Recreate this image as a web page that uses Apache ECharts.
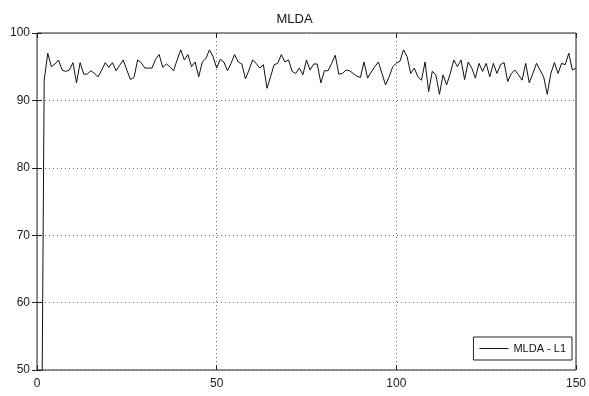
<!DOCTYPE html>
<html>
<head>
<meta charset="utf-8">
<script src="https://cdn.jsdelivr.net/npm/echarts@6/dist/echarts.min.js"></script>
<style>
html,body{margin:0;padding:0;background:#fff;}
#chart{width:589px;height:396px;}
</style>
</head>
<body>
<div id="chart"></div>
<script>
const titleText = 'MLDA';
const seriesName = 'MLDA - L1';
const xTicks = [0, 50, 100, 150];
const yTicks = [50, 60, 70, 80, 90, 100];
const accuracy = [
  15, 93.0, 97.0, 95.0, 95.4, 96.0, 94.5, 94.3, 94.5, 95.6,
  92.6, 95.6, 93.9, 93.9, 94.4, 94.0, 93.5, 94.5, 95.6, 94.9,
  95.6, 94.4, 95.2, 96.0, 94.5, 93.1, 93.4, 96.0, 95.6, 94.8,
  94.8, 94.8, 96.1, 96.8, 94.9, 95.4, 95.0, 94.4, 96.0, 97.5,
  96.0, 96.8, 95.0, 95.7, 93.5, 95.7, 96.2, 97.5, 96.5, 94.8,
  96.1, 95.7, 94.4, 95.5, 96.8, 95.7, 95.4, 93.2, 94.5, 96.0,
  95.5, 94.8, 95.3, 91.8, 93.5, 95.3, 95.5, 96.8, 95.7, 96.0,
  94.3, 94.0, 94.8, 93.8, 96.0, 94.5, 95.4, 95.4, 92.6, 94.4,
  94.4, 95.5, 96.7, 93.9, 94.0, 94.5, 94.4, 94.0, 93.6, 93.4,
  95.7, 93.3, 94.2, 95.0, 95.7, 94.0, 92.3, 93.5, 95.0, 95.5,
  95.8, 97.5, 96.5, 94.0, 94.8, 93.5, 93.0, 95.7, 91.3, 94.3,
  93.8, 90.9, 93.8, 92.3, 94.0, 96.0, 95.0, 96.0, 93.1, 95.7,
  94.8, 93.3, 95.5, 94.3, 95.5, 93.5, 95.5, 94.0, 95.3, 95.6,
  92.8, 94.0, 94.5, 93.8, 93.0, 95.5, 92.6, 94.0, 95.5, 94.5,
  93.5, 90.9, 94.0, 95.6, 94.0, 95.5, 95.3, 97.0, 94.5, 94.8
];

const font = '"Liberation Sans Narrow", "Liberation Sans", Arial, sans-serif';
const chart = echarts.init(document.getElementById('chart'), null, {renderer: 'canvas'});
const gridLine = {show: true, lineStyle: {color: '#666', type: [1, 3], width: 1}};
const option = {
  backgroundColor: '#fff',
  animation: false,
  title: {
    text: titleText, left: 'center', top: 8,
    textStyle: {fontFamily: font, fontSize: 13, fontWeight: 'normal', color: '#111'}
  },
  legend: {
    data: [seriesName], right: 17, bottom: 36,
    orient: 'vertical',
    icon: 'rect', itemWidth: 29, itemHeight: 1, itemGap: 4,
    padding: [6, 6, 6, 6],
    borderColor: '#222', borderWidth: 1, backgroundColor: '#fff',
    textStyle: {fontFamily: font, fontSize: 11, color: '#111'}
  },
  grid: {
    left: 37, right: 12, top: 33, bottom: 26,
    show: true, borderColor: '#222', borderWidth: 1, backgroundColor: 'transparent'
  },
  xAxis: [{
    type: 'value', min: xTicks[0], max: xTicks[xTicks.length - 1], interval: 50,
    axisLine: {show: false},
    axisTick: {show: true, inside: true, length: 5, lineStyle: {color: '#222'}},
    axisLabel: {fontFamily: font, fontSize: 12, color: '#222', margin: 8},
    splitLine: gridLine
  }, {
    type: 'value', position: 'top', min: xTicks[0], max: xTicks[xTicks.length - 1], interval: 50,
    axisLine: {show: false},
    axisTick: {show: true, inside: true, length: 5, lineStyle: {color: '#222'}},
    axisLabel: {show: false}, splitLine: {show: false}
  }],
  yAxis: [{
    type: 'value', min: yTicks[0], max: yTicks[yTicks.length - 1], interval: 10,
    axisLine: {show: false},
    axisTick: {show: true, inside: true, length: 5, lineStyle: {color: '#222'}},
    axisLabel: {fontFamily: font, fontSize: 12, color: '#222', margin: 7},
    splitLine: gridLine
  }, {
    type: 'value', position: 'right', min: yTicks[0], max: yTicks[yTicks.length - 1], interval: 10,
    axisLine: {show: false},
    axisTick: {show: true, inside: true, length: 5, lineStyle: {color: '#222'}},
    axisLabel: {show: false}, splitLine: {show: false}
  }],
  series: [{
    name: seriesName, type: 'line',
    data: accuracy.map((v, i) => [i + 1, v]),
    showSymbol: false, symbol: 'none', clip: true,
    lineStyle: {color: '#111', width: 1},
    itemStyle: {color: '#111'}
  }]
};
chart.setOption(option);
</script>
</body>
</html>
